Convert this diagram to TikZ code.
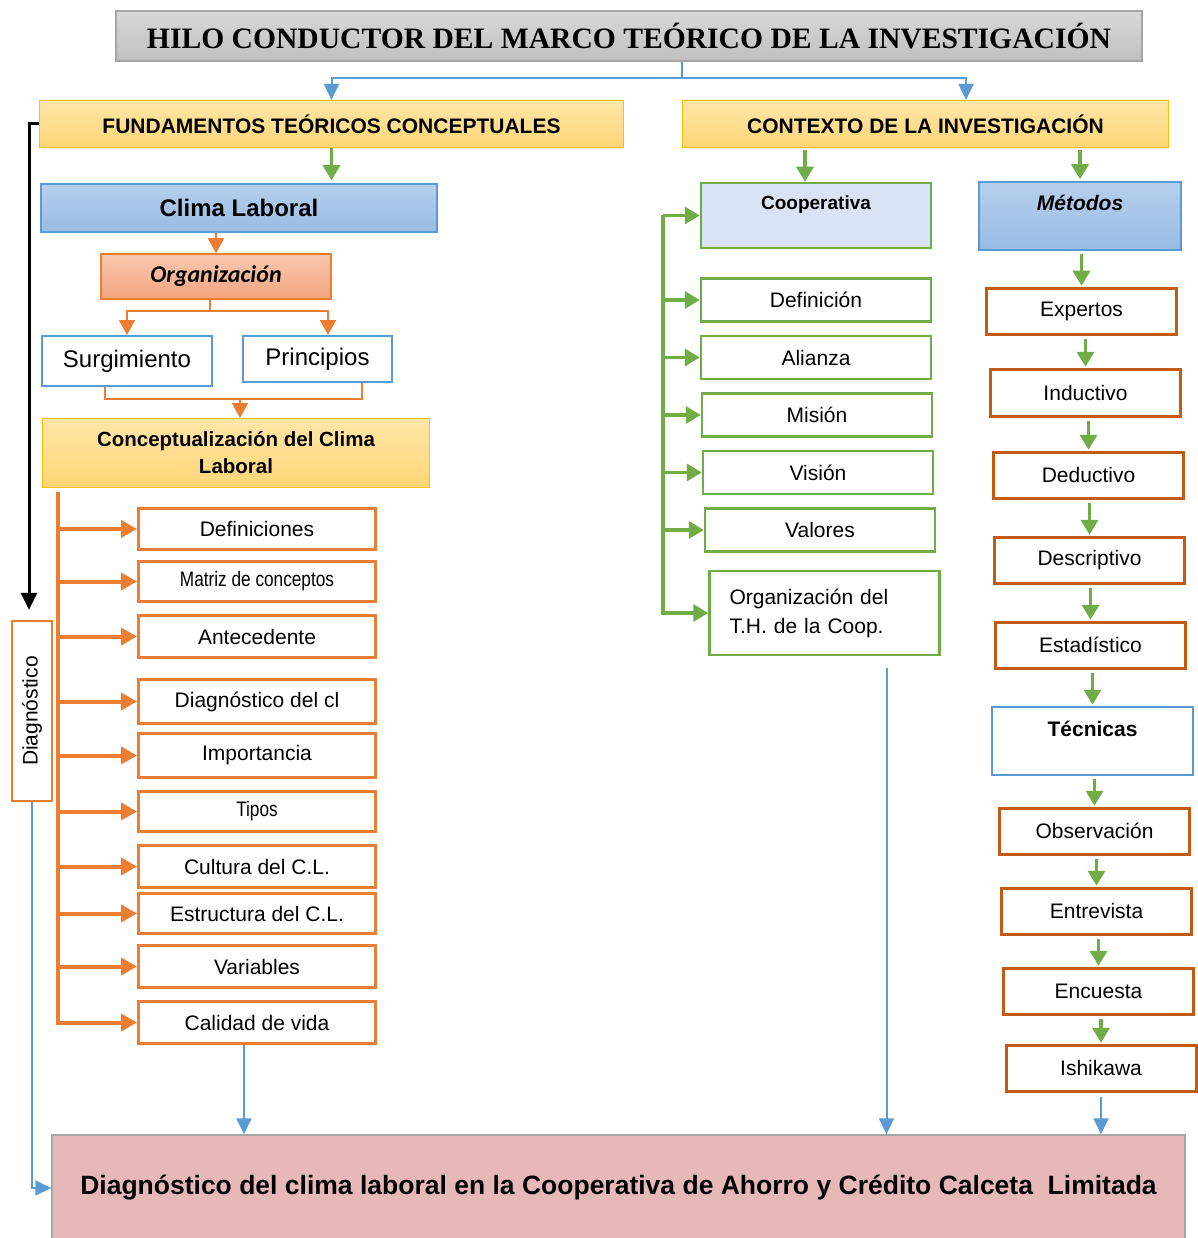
\documentclass[tikz,border=0pt]{standalone}
\usepackage{fontspec}
\setmainfont{Liberation Sans}
\newfontfamily\hcSerif{Liberation Serif}
\newfontfamily\hcCalibri{Carlito}
\usepackage{graphicx}
\usepackage{tikz}
\usetikzlibrary{positioning,arrows.meta,calc}
\definecolor{hcBlue}{RGB}{91,155,213}
\definecolor{hcOrange}{RGB}{237,125,49}
\definecolor{hcRust}{RGB}{197,90,17}
\definecolor{hcGreen}{RGB}{112,173,71}
\definecolor{hcGold}{RGB}{255,192,0}
\definecolor{hcGray}{RGB}{166,166,166}
\definecolor{hcGrayTop}{RGB}{216,216,216}
\definecolor{hcGrayBot}{RGB}{192,192,192}
\definecolor{hcSandTop}{RGB}{255,230,168}
\definecolor{hcSandBot}{RGB}{255,214,118}
\definecolor{hcSkyTop}{RGB}{183,207,236}
\definecolor{hcSkyBot}{RGB}{152,188,228}
\definecolor{hcSalmonTop}{RGB}{248,200,176}
\definecolor{hcSalmonBot}{RGB}{243,164,126}
\definecolor{hcIce}{RGB}{218,227,243}
\definecolor{hcPink}{RGB}{230,184,183}

\begin{document}
\begin{tikzpicture}[
    x=1pt, y=-1pt,
    every node/.style={font=\fontsize{21}{25}\selectfont},
    title node/.style={rectangle, draw=hcGray, line width=1.5pt, top color=hcGrayTop, bottom color=hcGrayBot, minimum width=1026, minimum height=50, font=\hcSerif\bfseries\fontsize{29.6}{34}\selectfont},
    head node/.style={rectangle, draw=hcGold, line width=1.2pt, top color=hcSandTop, bottom color=hcSandBot, font=\bfseries\fontsize{21}{25}\selectfont},
    sky node/.style={rectangle, draw=hcBlue, line width=1.5pt, top color=hcSkyTop, bottom color=hcSkyBot},
    plain node/.style={rectangle, draw=hcBlue, line width=2pt, fill=white},
    item node/.style={rectangle, draw=hcOrange, line width=3pt, fill=white, minimum width=237},
    coop node/.style={rectangle, draw=hcGreen, line width=2.5pt, fill=white, minimum width=230, minimum height=43},
    method node/.style={rectangle, draw=hcRust, line width=3pt, fill=white, minimum width=190, minimum height=46},
    green arrow/.style={draw=hcGreen, line width=3.5pt, -{Triangle[width=17pt,length=15pt]}},
    orange arrow/.style={draw=hcOrange, line width=4pt, -{Triangle[width=17pt,length=16pt]}},
    orange link/.style={draw=hcOrange, line width=2pt},
    orange tip/.style={orange link, -{Triangle[width=16pt,length=15pt]}},
    blue link/.style={draw=hcBlue, line width=2pt},
    blue arrow/.style={blue link, -{Triangle[width=15pt,length=16pt]}},
    black arrow/.style={draw=black, line width=3pt, -{Triangle[width=16pt,length=17pt]}}
]
  \useasboundingbox (0,0) rectangle (1197,1238);

  \node[title node] (title) at (629,36) {HILO CONDUCTOR DEL MARCO TEÓRICO DE LA INVESTIGACIÓN};
  \node[head node, minimum width=584, minimum height=47] (fund) at (331.5,124) {FUNDAMENTOS TEÓRICOS CONCEPTUALES};
  \node[head node, minimum width=486, minimum height=47] (ctx) at (925.5,124) {CONTEXTO DE LA INVESTIGACIÓN};

  \node[sky node, minimum width=396, minimum height=48, font=\bfseries\fontsize{24}{28}\selectfont] (clima) at (239,208) {Clima Laboral};
  \node[rectangle, draw=hcOrange, line width=1.5pt, top color=hcSalmonTop, bottom color=hcSalmonBot, minimum width=230, minimum height=45, font=\hcCalibri\bfseries\itshape\fontsize{24}{28}\selectfont] (org) at (216,276.5) {Organización};
  \node[plain node, minimum width=170, minimum height=50, font=\fontsize{24}{28}\selectfont] (surg) at (127,361) {Surgimiento};
  \node[plain node, minimum width=149, minimum height=46, font=\fontsize{24}{28}\selectfont] (princ) at (317.5,359) {Principios};
  \node[head node, minimum width=387, minimum height=69, align=center, font=\bfseries\fontsize{20.5}{27}\selectfont] (concep) at (236,453) {Conceptualización del Clima\\Laboral};

  \node[item node, minimum height=41] (def) at (257,529) {Definiciones};
  \node[item node, minimum height=40, below=9pt of def] (mat) {\scalebox{0.82}[1]{Matriz de conceptos}};
  \node[item node, minimum height=42, below=11pt of mat] (ant) {Antecedente};
  \node[item node, minimum height=44, below=19pt of ant] (diagcl) {Diagnóstico del cl};
  \node[item node, minimum height=44, below=7pt of diagcl] (imp) {Importancia};
  \node[item node, minimum height=40, below=11pt of imp] (tip) {\scalebox{0.82}[1]{Tipos}};
  \node[item node, minimum height=42, below=11pt of tip] (cult) {Cultura del C.L.};
  \node[item node, minimum height=40, below=3pt of cult] (estr) {Estructura del C.L.};
  \node[item node, minimum height=42, below=9pt of estr] (var) {Variables};
  \node[item node, minimum height=42, below=11pt of var] (cal) {Calidad de vida};

  \node[rectangle, draw=hcOrange, line width=2.5pt, fill=white, minimum width=40, minimum height=180] (diagv) at (32,711) {\rotatebox{90}{Diagnóstico}};

  \node[coop node, minimum height=65, fill=hcIce, label={[anchor=north, inner sep=0pt, yshift=-14pt, font=\bfseries\fontsize{19}{23}\selectfont]north:Cooperativa}] (coop) at (816,215.5) {};
  \node[coop node, below=28pt of coop] (defi) {Definición};
  \node[coop node, below=12pt of defi, xshift=0pt] (ali) {Alianza};
  \node[coop node, below=12pt of ali, xshift=1pt] (mis) {Misión};
  \node[coop node, below=12pt of mis, xshift=1pt] (vis) {Visión};
  \node[coop node, below=12pt of vis, xshift=2pt] (val) {Valores};
  \node[coop node, minimum height=84, below=17pt of val, xshift=4.5pt, align=left, text width=190, font=\fontsize{21}{29}\selectfont] (orgth) {Organización del\\T.H. de la Coop.};

  \node[sky node, minimum width=202, minimum height=68, label={[anchor=north, inner sep=0pt, yshift=-14pt, font=\bfseries\itshape\fontsize{21}{25}\selectfont]north:Métodos}] (met) at (1080,216) {};
  \node[method node, below=36pt of met, xshift=1.5pt] (exp) {Expertos};
  \node[method node, minimum height=47, below=32pt of exp, xshift=4pt] (ind) {Inductivo};
  \node[method node, below=33pt of ind, xshift=3pt] (ded) {Deductivo};
  \node[method node, below=36pt of ded, xshift=1pt] (desc) {Descriptivo};
  \node[method node, below=36pt of desc, xshift=1pt] (est) {Estadístico};
  \node[plain node, minimum width=201, minimum height=68, below=36pt of est, xshift=2pt, label={[anchor=north, inner sep=0pt, yshift=-15pt, font=\bfseries\fontsize{21}{25}\selectfont]north:Técnicas}] (tec) {};
  \node[method node, below=31pt of tec, xshift=2pt] (obs) {Observación};
  \node[method node, below=31pt of obs, xshift=2pt] (ent) {Entrevista};
  \node[method node, below=31pt of ent, xshift=2pt] (enc) {Encuesta};
  \node[method node, below=28pt of enc, xshift=2.5pt] (ish) {Ishikawa};

  \node[rectangle, draw=hcGray, line width=1.5pt, fill=hcPink, minimum width=1133, minimum height=106, font=\bfseries\fontsize{26.5}{30}\selectfont] (bottom) at (618.5,1188) {\raisebox{6pt}{Diagnóstico del clima laboral en la Cooperativa de Ahorro y Crédito Calceta \ Limitada}};

  \coordinate (split) at (682,78);
  \draw[blue link] (split |- title.south) -- (split);
  \draw[blue arrow] (split) -| (fund.north);
  \coordinate (cxin) at ($(ctx.north)+(40.5,0)$);
  \draw[blue arrow] (split) -| (cxin);

  \draw[green arrow, shorten >=3pt] (fund.south) -- (fund.south |- clima.north);
  \coordinate (cin) at ($(coop.north)+(-11,0)$);
  \draw[green arrow, shorten <=2pt] (cin |- ctx.south) -- (cin);
  \draw[green arrow, shorten <=2pt, shorten >=2pt] (met.north |- ctx.south) -- (met.north);

  \draw[orange tip] (org.north |- clima.south) -- (org.north);
  \draw[orange link] ($(org.south)+(-6,0)$) -- ++(0,11) coordinate (osp);
  \coordinate (pin) at ($(princ.north)+(10.5,0)$);
  \draw[orange tip] (osp) -| (surg.north);
  \draw[orange tip] (osp) -| (pin);
  \coordinate (sj) at ($(concep.north)+(4,-19)$);
  \draw[orange link] ($(surg.south)+(-22,0)$) |- (sj) -| ($(princ.south)+(44.5,0)$);
  \draw[orange tip] (sj) -- (sj |- concep.north);

  \coordinate (ot) at ($(concep.south west)+(16,4)$);
  \draw[orange arrow] (ot) |- (cal.west);
  \foreach \n in {def,mat,ant,diagcl,imp,tip,cult,estr,var}
    \draw[orange arrow] (ot |- \n.west) -- (\n.west);

  \draw[black arrow, shorten >=10pt] (fund.west) -| ($(diagv.north)+(-3,0)$);
  \draw[blue arrow] (diagv.south) |- (bottom.west);

  \coordinate (gt) at ($(coop.west)+(-37,0)$);
  \draw[green arrow] (gt) -- (coop.west);
  \draw[green arrow] (gt) |- (orgth.west);
  \foreach \n in {defi,ali,mis,vis,val}
    \draw[green arrow] (gt |- \n.west) -- (\n.west);

  \foreach \a/\b in {met/exp,exp/ind,ind/ded,ded/desc,desc/est,est/tec,tec/obs,obs/ent,ent/enc,enc/ish}
    \draw[green arrow, shorten <=3pt, shorten >=1pt] (\b.north |- \a.south) -- (\b.north);

  \coordinate (lout) at ($(cal.south)+(-13,0)$);
  \draw[blue arrow] (lout) -- (lout |- bottom.north);
  \coordinate (tout) at ($(orgth.south)+(62,0)$);
  \draw[blue arrow, shorten <=12pt] (tout) -- (tout |- bottom.north);
  \draw[blue arrow, shorten <=4pt] (ish.south) -- (ish.south |- bottom.north);
\end{tikzpicture}
\end{document}
